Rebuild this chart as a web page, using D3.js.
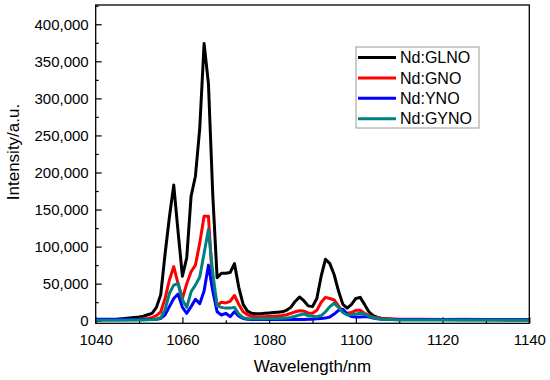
<!DOCTYPE html>
<html><head><meta charset="utf-8">
<script src="https://cdn.jsdelivr.net/npm/d3@7/dist/d3.min.js"></script>
<style>body{margin:0;background:#fff}svg{display:block}text{font-family:"Liberation Sans",Arial,sans-serif}</style>
</head><body><svg id="c" width="550" height="380"></svg>
<script>
const wavelengths = [1040,1045,1050,1051,1052,1053,1054,1055,1056,1057,1058,1059,1060,1061,1062,1063,1064,1065,1066,1067,1068,1069,1070,1071,1072,1073,1074,1075,1076,1077,1078,1079,1080,1081,1082,1083,1084,1085,1086,1087,1088,1089,1090,1091,1092,1093,1094,1095,1096,1097,1098,1099,1100,1101,1102,1103,1104,1105,1106,1108,1110,1115,1120,1125,1130,1135,1140];
const glno = [1500,2000,5000,6000,8000,10000,18000,35000,90000,140000,183000,120000,60000,85000,168000,195000,260000,374000,320000,170000,58000,64000,64000,65000,77000,45000,22000,13000,10000,9500,9500,10000,10500,11000,11500,12000,14000,18000,26000,32000,27000,20000,19000,30000,60000,83000,77000,62000,40000,22000,17000,22000,30000,31500,22000,12000,7000,4500,3000,2000,1500,1500,1500,1200,1200,1000,1000];
const gno = [1500,1500,2000,2500,3000,4000,7000,12000,30000,55000,73000,50000,30000,50000,66000,75000,105000,141000,141000,46000,21000,25000,24000,26000,34000,22000,12000,8000,6000,5500,5500,5500,6000,6000,6500,7000,8000,10000,12000,13500,13000,10500,10000,14000,25000,31500,30000,28000,20000,12000,10000,11000,14000,14000,10000,6500,5000,4000,3000,2500,2000,2000,1500,2000,1500,1500,1500];
const yno = [2000,2000,1500,1500,1500,1500,2000,3000,8000,19000,30000,36000,18000,10000,19000,29000,23000,40000,75000,40000,12000,7700,10000,5500,12000,6000,3000,2000,1500,1500,1500,1500,1500,1500,1500,1500,1500,1500,1500,1500,1500,1800,2000,2500,3000,3500,5000,9000,14000,15500,9000,5500,5000,5000,5500,5000,3500,2500,2000,1500,1500,1500,1500,1500,1500,1500,1500];
const gyno = [500,500,1000,1000,1200,1500,2000,4000,15000,37000,48000,50000,28000,18000,39000,48000,59000,91000,123000,64000,20000,18000,17000,17000,18000,9000,4000,3000,2500,2500,2500,2800,3000,3000,3000,3200,3500,4500,6000,7700,9000,7000,6000,5500,7000,12000,19000,23500,18000,11000,7700,8000,9000,10000,9000,6000,4000,3000,2000,1500,1000,800,800,800,800,800,800];
const seriesNames = ["Nd:GLNO","Nd:GNO","Nd:YNO","Nd:GYNO"];
const seriesValues = [glno, gno, yno, gyno];
const seriesColors = ["#000000","#ff0000","#0000ff","#008080"];
const xTicks = [1040,1060,1080,1100,1120,1140];
const yTicks = [0,50000,100000,150000,200000,250000,300000,350000,400000];

const svg = d3.select("#c");
const L=95.7, R=529.3, T=5, B=323.3;
const x = d3.scaleLinear().domain([1040,1140]).range([L,R]);
const y = d3.scaleLinear().domain([-3500,426000]).range([B,T]);

// minor ticks
svg.append("g").attr("transform",`translate(0,${B})`)
  .call(d3.axisBottom(x).tickValues(d3.range(1050,1140,20)).tickSize(-3).tickFormat(""))
  .call(g=>g.select(".domain").remove()).selectAll("line").attr("stroke-width",1.2);
svg.append("g").attr("transform",`translate(${L},0)`)
  .call(d3.axisLeft(y).tickValues(d3.range(25000,426000,50000)).tickSize(-3).tickFormat(""))
  .call(g=>g.select(".domain").remove()).selectAll("line").attr("stroke-width",1.2);

const xa = svg.append("g").attr("transform",`translate(0,${B})`)
  .call(d3.axisBottom(x).tickValues(xTicks).tickSize(-6).tickPadding(11).tickFormat(d3.format("d")));
xa.select(".domain").remove();
xa.selectAll("line").attr("stroke-width",1.2);
xa.selectAll("text").attr("font-size",15).attr("fill","#000").style("font-family","Liberation Sans, Arial, sans-serif");

const ya = svg.append("g").attr("transform",`translate(${L},0)`)
  .call(d3.axisLeft(y).tickValues(yTicks).tickSize(-6).tickPadding(7).tickFormat(d3.format(",")));
ya.select(".domain").remove();
ya.selectAll("line").attr("stroke-width",1.2);
ya.selectAll("text").attr("font-size",15).attr("fill","#000").style("font-family","Liberation Sans, Arial, sans-serif");

const line = d3.line().x((d,i)=>x(wavelengths[i])).y(d=>y(d));
svg.append("defs").append("clipPath").attr("id","clip").append("rect").attr("x",L).attr("y",T).attr("width",R-L).attr("height",B-T);
const gl = svg.append("g").attr("clip-path","url(#clip)");
seriesValues.forEach((vals,i)=>{
  gl.append("path").datum(vals).attr("d",line).attr("fill","none")
    .attr("stroke",seriesColors[i]).attr("stroke-width",3).attr("stroke-linejoin","round");
});

svg.append("rect").attr("x",L).attr("y",T).attr("width",R-L).attr("height",B-T)
  .attr("fill","none").attr("stroke","#000").attr("stroke-width",1.3);

svg.append("text").attr("x",(L+R)/2).attr("y",372).attr("text-anchor","middle")
  .attr("font-size",17).text("Wavelength/nm");
svg.append("text").attr("transform","translate(19,152) rotate(-90)").attr("text-anchor","middle")
  .attr("font-size",17).text("Intensity/a.u.");

// legend
const lg = svg.append("g");
lg.append("rect").attr("x",356).attr("y",47).attr("width",123).attr("height",81)
  .attr("fill","#fff").attr("stroke","#999").attr("stroke-width",1);
seriesNames.forEach((n,i)=>{
  const yy = 57.5 + i*20.4;
  lg.append("line").attr("x1",358).attr("x2",396).attr("y1",yy).attr("y2",yy)
    .attr("stroke",seriesColors[i]).attr("stroke-width",3);
  lg.append("text").attr("x",400).attr("y",yy).attr("dy","0.36em").attr("font-size",16).text(n);
});
</script></body></html>
